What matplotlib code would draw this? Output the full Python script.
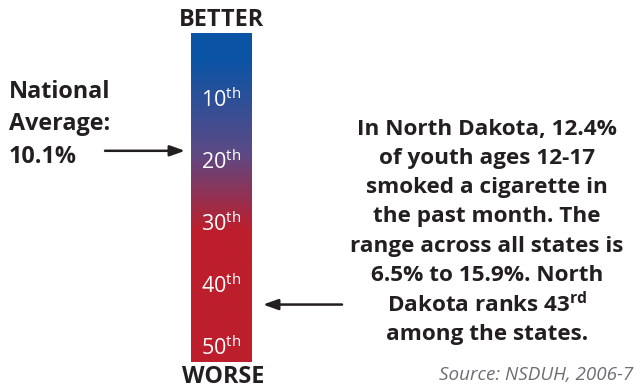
import numpy as np
import matplotlib
matplotlib.use("Agg")
import matplotlib.pyplot as plt
from matplotlib.colors import LinearSegmentedColormap

plt.rcParams['font.family'] = ['Open Sans', 'DejaVu Sans']
plt.rcParams['mathtext.fontset'] = 'custom'
plt.rcParams['mathtext.rm'] = 'Open Sans'
plt.rcParams['mathtext.bf'] = 'Open Sans:bold'
plt.rcParams['mathtext.it'] = 'Open Sans:italic'

# ---- data ----
tick_ranks = [10, 20, 30, 40, 50]
tick_labels = [r'10$^{\mathrm{th}}$', r'20$^{\mathrm{th}}$', r'30$^{\mathrm{th}}$',
               r'40$^{\mathrm{th}}$', r'50$^{\mathrm{th}}$']
rank_min, rank_max = 1, 51
national_rank = 18.2        # where the national average (10.1%) falls
state_rank = 43             # North Dakota rank
grad_stops = [0.0, 0.08, 0.36, 0.60, 1.0]
grad_colors = ['#0b54a5', '#0b54a5', '#5b4a86', '#bd1e2c', '#bd1e2c']

left_lines = ['National', 'Average:', '10.1%']
right_lines = ['In North Dakota, 12.4%', 'of youth ages 12-17',
               'smoked a cigarette in', 'the past month. The',
               'range across all states is', '6.5% to 15.9%. North',
               r'Dakota ranks 43$^{\mathbf{rd}}$', 'among the states.']
source_text = 'Source: NSDUH, 2006-7'

W, H = 636, 388
fig = plt.figure(figsize=(W / 100, H / 100), dpi=100)

def fx(x):
    return x / W

def fy(y):
    return 1 - y / H

# bar axes: pixels x 191-251, y 33-362
ax = fig.add_axes([fx(191), fy(362), fx(251) - fx(191), (362 - 33) / H])
top_r = -0.8
bot_r = top_r + 329 / 6.2
cmap = LinearSegmentedColormap.from_list('rank', list(zip(grad_stops, grad_colors)))
ranks = np.linspace(rank_min, rank_max, 400).reshape(-1, 1)
ax.imshow(ranks, cmap=cmap, aspect='auto', extent=[0, 1, bot_r, top_r],
          vmin=rank_min, vmax=rank_max, interpolation='bilinear')
ax.set_xlim(0, 1)
ax.set_ylim(bot_r, top_r)
ax.axis('off')

for r, lab in zip(tick_ranks, tick_labels):
    ax.text(0.5, r, lab, color='white', fontsize=15.5, ha='center', va='center')

ax.annotate('', xy=(-0.1, national_rank), xytext=(-1.433, national_rank),
            xycoords=('axes fraction', 'data'), textcoords=('axes fraction', 'data'),
            annotation_clip=False,
            arrowprops=dict(arrowstyle='-|>,head_length=0.9,head_width=0.32',
                            color='#231f20', lw=1.8, shrinkA=0, shrinkB=0))
ax.annotate('', xy=(1.2, state_rank), xytext=(2.517, state_rank),
            xycoords=('axes fraction', 'data'), textcoords=('axes fraction', 'data'),
            annotation_clip=False,
            arrowprops=dict(arrowstyle='-|>,head_length=0.9,head_width=0.32',
                            color='#231f20', lw=1.8, shrinkA=0, shrinkB=0))

dark = '#231f20'
fig.text(fx(221), fy(20), 'BETTER', fontsize=16.8, fontweight='bold', color=dark,
         ha='center', va='center')
fig.text(fx(223), fy(377), 'WORSE', fontsize=16.8, fontweight='bold', color=dark,
         ha='center', va='center')

for i, line in enumerate(left_lines):
    fig.text(fx(9), fy(92 + i * 32.5), line, fontsize=16.8, fontweight='bold',
             color=dark, ha='left', va='center')

for i, line in enumerate(right_lines):
    fig.text(fx(487), fy(129 + i * 29.3), line, fontsize=16.2, fontweight='bold',
             color=dark, ha='center', va='center')

fig.text(fx(633), fy(375), source_text, fontsize=13.6, style='italic',
         color='#6d6e71', ha='right', va='center')

fig.savefig('out.png', dpi=100)
